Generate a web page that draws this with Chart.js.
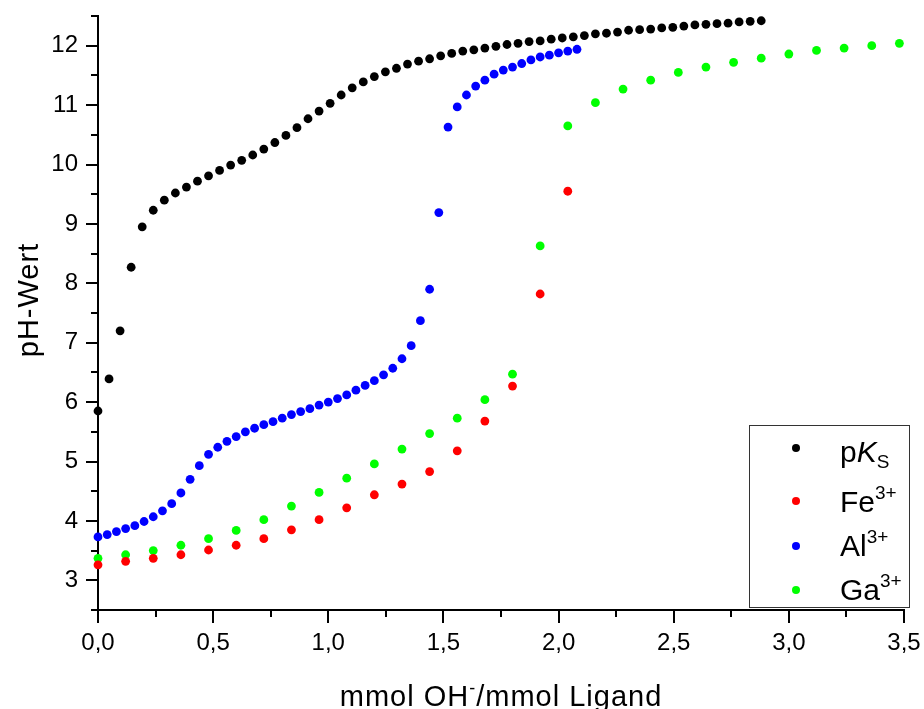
<!DOCTYPE html>
<html><head><meta charset="utf-8">
<script src="https://cdn.jsdelivr.net/npm/chart.js@4"></script>
<style>html,body{margin:0;padding:0;background:#fff}#wrap{width:924px;height:709px;position:relative}</style>
</head><body><div id="wrap"><canvas id="c" width="924" height="709"></canvas></div>
<script>
// ---- data ----
const seriesNames = ['pKS', 'Fe³⁺', 'Al³⁺', 'Ga³⁺'];
const seriesColors = ['#000000', '#ff0000', '#0000ff', '#00ff00'];

const pkX = [0, 0.048, 0.096, 0.144, 0.192, 0.24, 0.288, 0.336, 0.384, 0.432, 0.48, 0.528, 0.576, 0.624, 0.672, 0.72, 0.768, 0.816, 0.864, 0.912, 0.96, 1.008, 1.056, 1.104, 1.152, 1.2, 1.248, 1.296, 1.344, 1.392, 1.44, 1.488, 1.536, 1.584, 1.632, 1.68, 1.728, 1.776, 1.824, 1.872, 1.92, 1.968, 2.016, 2.064, 2.112, 2.16, 2.208, 2.256, 2.304, 2.352, 2.4, 2.448, 2.496, 2.544, 2.592, 2.64, 2.688, 2.736, 2.784, 2.832, 2.88];
const pkY = [5.85, 6.39, 7.2, 8.27, 8.95, 9.23, 9.4, 9.52, 9.62, 9.72, 9.81, 9.9, 9.99, 10.07, 10.16, 10.26, 10.37, 10.49, 10.62, 10.77, 10.9, 11.03, 11.17, 11.29, 11.39, 11.48, 11.56, 11.62, 11.69, 11.74, 11.78, 11.83, 11.87, 11.91, 11.93, 11.96, 11.99, 12.02, 12.04, 12.07, 12.08, 12.11, 12.13, 12.15, 12.17, 12.2, 12.21, 12.23, 12.26, 12.27, 12.28, 12.3, 12.31, 12.33, 12.35, 12.36, 12.37, 12.38, 12.4, 12.41, 12.42];

const feX = [0, 0.12, 0.24, 0.36, 0.48, 0.6, 0.72, 0.84, 0.96, 1.08, 1.2, 1.32, 1.44, 1.56, 1.68, 1.8, 1.92, 2.04];
const feY = [3.26, 3.32, 3.37, 3.43, 3.51, 3.59, 3.7, 3.85, 4.02, 4.22, 4.44, 4.62, 4.83, 5.18, 5.68, 6.27, 7.82, 9.55];

const alX = [0, 0.04, 0.08, 0.12, 0.16, 0.2, 0.24, 0.28, 0.32, 0.36, 0.4, 0.44, 0.48, 0.52, 0.56, 0.6, 0.64, 0.68, 0.72, 0.76, 0.8, 0.84, 0.88, 0.92, 0.96, 1.0, 1.04, 1.08, 1.12, 1.16, 1.2, 1.24, 1.28, 1.32, 1.36, 1.4, 1.44, 1.48, 1.52, 1.56, 1.6, 1.64, 1.68, 1.72, 1.76, 1.8, 1.84, 1.88, 1.92, 1.96, 2.0, 2.04, 2.08];
const alY = [3.73, 3.77, 3.82, 3.87, 3.92, 3.99, 4.07, 4.17, 4.29, 4.47, 4.7, 4.93, 5.12, 5.24, 5.34, 5.42, 5.5, 5.56, 5.62, 5.67, 5.73, 5.79, 5.84, 5.89, 5.95, 6.0, 6.06, 6.12, 6.2, 6.28, 6.36, 6.46, 6.57, 6.73, 6.95, 7.37, 7.9, 9.19, 10.63, 10.97, 11.17, 11.32, 11.42, 11.52, 11.59, 11.64, 11.7, 11.76, 11.81, 11.84, 11.88, 11.91, 11.94];

const gaX = [0, 0.12, 0.24, 0.36, 0.48, 0.6, 0.72, 0.84, 0.96, 1.08, 1.2, 1.32, 1.44, 1.56, 1.68, 1.8, 1.92, 2.04, 2.16, 2.28, 2.4, 2.52, 2.64, 2.76, 2.88, 3.0, 3.12, 3.24, 3.36, 3.48];
const gaY = [3.37, 3.43, 3.5, 3.59, 3.7, 3.84, 4.02, 4.25, 4.48, 4.72, 4.96, 5.21, 5.47, 5.73, 6.04, 6.47, 8.63, 10.65, 11.04, 11.27, 11.42, 11.55, 11.64, 11.72, 11.79, 11.86, 11.92, 11.96, 12.0, 12.04];

const xMajorTicks = [0, 0.5, 1, 1.5, 2, 2.5, 3, 3.5];
const yMajorTicks = [3, 4, 5, 6, 7, 8, 9, 10, 11, 12];
const xMinorTicks = [0.25, 0.75, 1.25, 1.75, 2.25, 2.75, 3.25];
const yMinorTicks = [2.5, 3.5, 4.5, 5.5, 6.5, 7.5, 8.5, 9.5, 10.5, 11.5, 12.5];

const xTitleParts = [{t: 'mmol OH'}, {t: '-', sup: true}, {t: '/mmol Ligand'}];
const yTitle = 'pH-Wert';
const legendParts = [
  [{t: 'p'}, {t: 'K', it: true}, {t: 'S', sub: true}],
  [{t: 'Fe'}, {t: '3+', sup: true}],
  [{t: 'Al'}, {t: '3+', sup: true}],
  [{t: 'Ga'}, {t: '3+', sup: true}]
];

// ---- helpers ----
const FONT = "'Liberation Sans', Arial, sans-serif";
const zip = (xs, ys) => xs.map((x, i) => ({x: x, y: ys[i]}));
const commaFmt = v => Number(v).toFixed(1).replace('.', ',');

function drawRich(ctx, parts, x, y, size, spacing, measureOnly) {
  let cx = x;
  parts.forEach(p => {
    let s = size, dy = 0;
    if (p.sup) { s = Math.round(size * 0.62); dy = -size * 0.42; }
    if (p.sub) { s = Math.round(size * 0.62); dy = size * 0.2; }
    ctx.font = (p.it ? 'italic ' : '') + s + 'px ' + FONT;
    if ('letterSpacing' in ctx) ctx.letterSpacing = spacing + 'px';
    if (!measureOnly) ctx.fillText(p.t, cx, y + dy);
    cx += ctx.measureText(p.t).width;
  });
  if ('letterSpacing' in ctx) ctx.letterSpacing = '0px';
  return cx - x;
}

const decorPlugin = {
  id: 'decor',
  afterDraw(chart) {
    const ctx = chart.ctx, ca = chart.chartArea;
    const xs = chart.scales.x, ys = chart.scales.y;
    ctx.save();
    // minor ticks
    ctx.strokeStyle = '#000';
    ctx.lineWidth = 2;
    xMinorTicks.forEach(v => {
      const px = Math.round(xs.getPixelForValue(v));
      ctx.beginPath(); ctx.moveTo(px, ca.bottom); ctx.lineTo(px, ca.bottom + 7); ctx.stroke();
    });
    yMinorTicks.forEach(v => {
      const py = Math.round(ys.getPixelForValue(v));
      ctx.beginPath(); ctx.moveTo(ca.left, py); ctx.lineTo(ca.left - 7, py); ctx.stroke();
    });

    ctx.fillStyle = '#000';
    ctx.textBaseline = 'alphabetic';
    ctx.textAlign = 'left';
    // x title
    const tsize = 29, tsp = 1;
    const w = drawRich(ctx, xTitleParts, 0, 0, tsize, tsp, true);
    const cxm = (ca.left + ca.right) / 2;
    drawRich(ctx, xTitleParts, cxm - w / 2, ca.bottom + 96, tsize, tsp, false);
    // y title
    ctx.save();
    ctx.translate(ca.left - 60, (ca.top + ca.bottom) / 2 - 13);
    ctx.rotate(-Math.PI / 2);
    ctx.font = tsize + 'px ' + FONT;
    if ('letterSpacing' in ctx) ctx.letterSpacing = tsp + 'px';
    ctx.textAlign = 'center';
    ctx.fillText(yTitle, 0, 0);
    if ('letterSpacing' in ctx) ctx.letterSpacing = '0px';
    ctx.restore();

    // legend
    const bx = ca.right - 155, by = ca.bottom - 185, bw = 160, bh = 182;
    ctx.fillStyle = '#fff';
    ctx.fillRect(bx, by, bw, bh);
    ctx.strokeStyle = '#333';
    ctx.lineWidth = 1;
    ctx.strokeRect(bx + 0.5, by + 0.5, bw, bh);
    const dotY = [23, 76, 121, 165];
    const baseY = [37, 87, 131, 175];
    chart.data.datasets.forEach((ds, i) => {
      ctx.fillStyle = ds.backgroundColor;
      ctx.beginPath();
      ctx.arc(bx + 47, by + dotY[i], 4, 0, Math.PI * 2);
      ctx.fill();
      ctx.fillStyle = '#000';
      drawRich(ctx, legendParts[i], bx + 91, by + baseY[i], 30, 0, false);
    });
    ctx.restore();
  }
};

const datasets = [
  {label: seriesNames[0], data: zip(pkX, pkY), backgroundColor: seriesColors[0]},
  {label: seriesNames[1], data: zip(feX, feY), backgroundColor: seriesColors[1]},
  {label: seriesNames[2], data: zip(alX, alY), backgroundColor: seriesColors[2]},
  {label: seriesNames[3], data: zip(gaX, gaY), backgroundColor: seriesColors[3]}
].map(d => Object.assign(d, {
  borderColor: d.backgroundColor, pointRadius: 4.4, pointBorderWidth: 0,
  pointHoverRadius: 4.4, showLine: false, clip: false
}));

new Chart(document.getElementById('c'), {
  type: 'scatter',
  data: {datasets: datasets},
  options: {
    responsive: false,
    animation: false,
    devicePixelRatio: 1,
    layout: {padding: {left: 0, right: 20, top: 16, bottom: 0}},
    plugins: {legend: {display: false}, tooltip: {enabled: false}},
    scales: {
      x: {
        type: 'linear', position: 'bottom', min: 0, max: 3.5,
        afterBuildTicks: s => { s.ticks = xMajorTicks.map(v => ({value: v})); },
        ticks: {callback: v => commaFmt(v), color: '#000',
          font: {family: FONT, size: 24}, padding: 6, maxRotation: 0, autoSkip: false},
        grid: {display: true, drawOnChartArea: false, drawTicks: true, tickLength: 13, color: '#000', lineWidth: 2},
        border: {display: true, color: '#000', width: 2},
        afterFit: s => { s.height = 99; s.paddingLeft = 0; s.paddingRight = 0; }
      },
      y: {
        type: 'linear', position: 'left', min: 2.5, max: 12.5,
        afterBuildTicks: s => { s.ticks = yMajorTicks.map(v => ({value: v})); },
        ticks: {callback: v => String(v), color: '#000',
          font: {family: FONT, size: 24}, padding: 8, autoSkip: false},
        grid: {display: true, drawOnChartArea: false, drawTicks: true, tickLength: 12, color: '#000', lineWidth: 2},
        border: {display: true, color: '#000', width: 2},
        afterFit: s => { s.width = 98; s.paddingTop = 0; s.paddingBottom = 0; }
      }
    }
  },
  plugins: [decorPlugin]
});
</script></body></html>
